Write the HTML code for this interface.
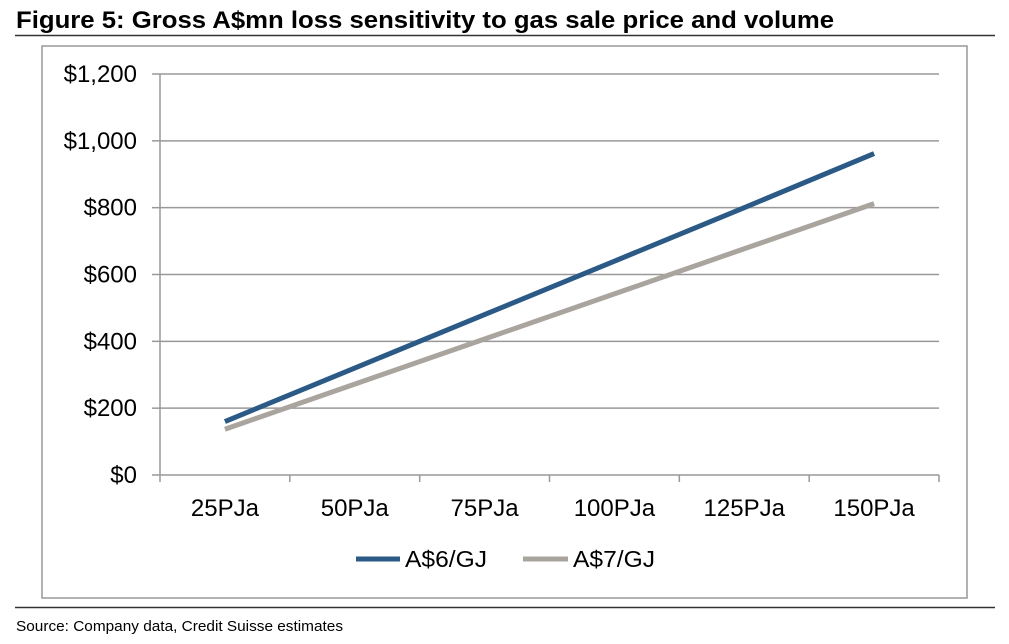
<!DOCTYPE html>
<html><head><meta charset="utf-8"><style>
body{margin:0;background:#fff;width:1009px;height:644px;overflow:hidden;font-family:"Liberation Sans",sans-serif;}
</style></head><body>
<svg width="1009" height="644" style="position:absolute;left:0;top:0">
<text x="16" y="28" font-size="24" font-weight="bold" fill="#000" textLength="818" lengthAdjust="spacingAndGlyphs">Figure 5: Gross A$mn loss sensitivity to gas sale price and volume</text>
<line x1="15" y1="35.5" x2="995" y2="35.5" stroke="#333" stroke-width="1.5"/>
<rect x="42" y="46" width="925" height="552" fill="none" stroke="#999" stroke-width="1.5"/>
<g id="grid"></g>
<g id="yl"></g>
<g id="xl"></g>
<g id="series"></g>
<line x1="356" y1="559" x2="400" y2="559" stroke="#2b5a87" stroke-width="5"/>
<text x="405" y="567" font-size="23" fill="#000" textLength="82" lengthAdjust="spacingAndGlyphs">A$6/GJ</text>
<line x1="523" y1="559" x2="568" y2="559" stroke="#aaa49e" stroke-width="5"/>
<text x="573" y="567" font-size="23" fill="#000" textLength="82" lengthAdjust="spacingAndGlyphs">A$7/GJ</text>
<line x1="15" y1="607.5" x2="995" y2="607.5" stroke="#333" stroke-width="1.5"/>
<text x="16" y="631" font-size="14.5" fill="#000" textLength="327" lengthAdjust="spacingAndGlyphs">Source: Company data, Credit Suisse estimates</text>
</svg>
<script>
const categories=["25PJa","50PJa","75PJa","100PJa","125PJa","150PJa"];
const seriesA6=[160,320,480,640,800,962];
const seriesA7=[137,272,407,542,677,812];
const yTicks=[0,200,400,600,800,1000,1200];
const yTickLabels=["$0","$200","$400","$600","$800","$1,000","$1,200"];
const NS="http://www.w3.org/2000/svg";
const X0=160,X1=939,Y0=475,Y1=74;
const bw=(X1-X0)/categories.length;
const xc=i=>X0+bw*(i+0.5);
const y=v=>Y0-(v/1200)*(Y0-Y1);
function mk(t,a,p){const e=document.createElementNS(NS,t);for(const k in a)e.setAttribute(k,a[k]);p.appendChild(e);return e;}
const grid=document.getElementById('grid'),yl=document.getElementById('yl'),xl=document.getElementById('xl'),sg=document.getElementById('series');
yTicks.forEach((v,i)=>{
 if(v>0){const g=mk('line',{x1:X0,x2:X1,y1:y(v),y2:y(v),stroke:'#999','stroke-width':1.5},grid);
 
 }
 const tk=mk('line',{x1:152,x2:X0,y1:y(v),y2:y(v),stroke:'#999','stroke-width':1.5},grid);
 
 
 const t=mk('text',{x:137,y:y(v)+8,'text-anchor':'end','font-size':24,fill:'#000'},yl);t.textContent=yTickLabels[i];
 
 
});
const ya=mk('line',{x1:X0,x2:X0,y1:Y1,y2:Y0,stroke:'#999','stroke-width':1.5},grid);


const xa=mk('line',{x1:X0,x2:X1,y1:Y0,y2:Y0,stroke:'#999','stroke-width':1.5},grid);


for(let i=0;i<=categories.length;i++){const tk=mk('line',{x1:X0+bw*i,x2:X0+bw*i,y1:Y0,y2:482,stroke:'#999','stroke-width':1.5},grid);
 
 }
categories.forEach((c,i)=>{const t=mk('text',{x:xc(i),y:516,'text-anchor':'middle','font-size':24,fill:'#000'},xl);t.textContent=c;
 
 });
function line(d,col,name){const p=mk('polyline',{points:d.map((v,i)=>xc(i)+','+y(v)).join(' '),fill:'none',stroke:col,'stroke-width':5},sg);
 
 }
line(seriesA7,'#aaa49e','line-a7');
line(seriesA6,'#2b5a87','line-a6');
</script>
</body></html>
